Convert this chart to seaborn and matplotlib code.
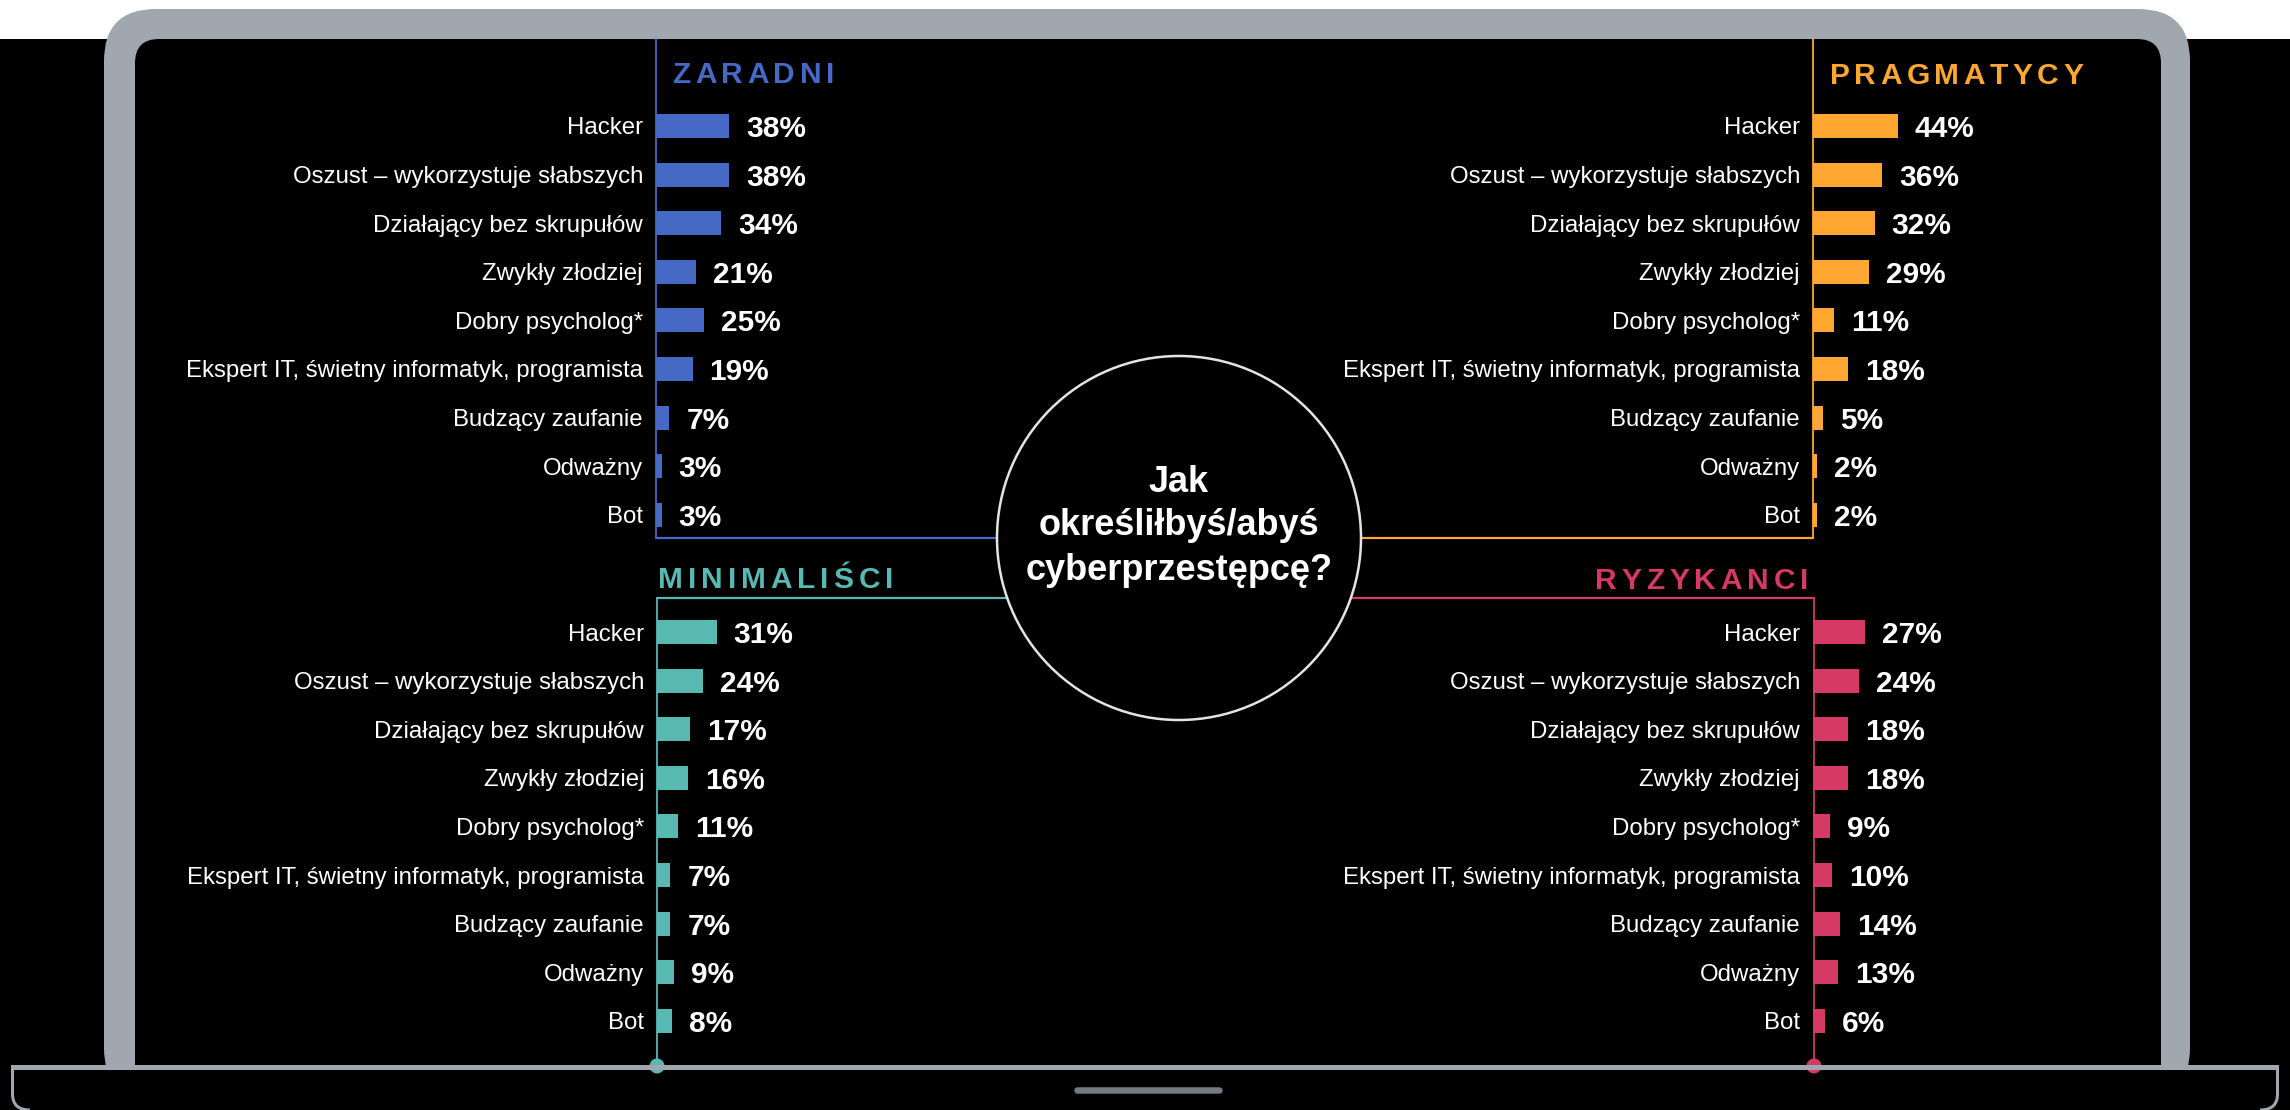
import matplotlib
matplotlib.use("Agg")
import matplotlib.pyplot as plt
import seaborn as sns
import pandas as pd
from matplotlib.patches import FancyBboxPatch, Rectangle, Circle, PathPatch
from matplotlib.path import Path

# ---------------- data ----------------
categories = [
    "Hacker",
    "Oszust – wykorzystuje słabszych",
    "Działający bez skrupułów",
    "Zwykły złodziej",
    "Dobry psycholog*",
    "Ekspert IT, świetny informatyk, programista",
    "Budzący zaufanie",
    "Odważny",
    "Bot",
]
zaradni = [38, 38, 34, 21, 25, 19, 7, 3, 3]
pragmatycy = [44, 36, 32, 29, 11, 18, 5, 2, 2]
minimalisci = [31, 24, 17, 16, 11, 7, 7, 9, 8]
ryzykanci = [27, 24, 18, 18, 9, 10, 14, 13, 6]
group_names = ["ZARADNI", "PRAGMATYCY", "MINIMALIŚCI", "RYZYKANCI"]
question_lines = ["Jak", "określiłbyś/abyś", "cyberprzestępcę?"]

# ---------------- style ----------------
sns.set_theme(style="white")
plt.rcParams['font.family'] = ['Liberation Sans', 'DejaVu Sans']

W, H, DPI = 2290, 1110, 100
def px(v):
    return v * 72.0 / DPI

GRAY = "#A0A7AE"
HANDLE = "#6F7C82"
COLORS = ["#4669C5", "#FFA633", "#57B9B1", "#D63964"]

fig = plt.figure(figsize=(W / DPI, H / DPI), dpi=DPI, facecolor="white")
bg = fig.add_axes([0, 0, 1, 1], zorder=0)
bg.set_xlim(0, W)
bg.set_ylim(H, 0)
bg.axis("off")

# ---------------- laptop frame ----------------
bg.add_patch(Rectangle((0, 39), W, H - 39, facecolor="black", edgecolor="none", zorder=0))
bg.add_patch(FancyBboxPatch((104, 9), 2190 - 104, 1100 - 9,
                            boxstyle="round,pad=0,rounding_size=52",
                            facecolor=GRAY, edgecolor="none", zorder=1))
bg.add_patch(FancyBboxPatch((135, 39), 2161 - 135, 1100 - 39,
                            boxstyle="round,pad=0,rounding_size=24",
                            facecolor="black", edgecolor="none", zorder=1.1))
bg.add_patch(Rectangle((0, 1069), W, H - 1069, facecolor="black", edgecolor="none", zorder=1.2))

# ---------------- panel connector lines ----------------
CX, CY, R = 1179, 538, 182
line_w = px(2.2)
axis_w = px(1.8)
bg.plot([656, 656], [39, 538], color=COLORS[0], lw=axis_w, zorder=2)
bg.plot([656, CX - R + 2], [538, 538], color=COLORS[0], lw=line_w, zorder=2)
bg.plot([1813, 1813], [39, 538], color=COLORS[1], lw=axis_w, zorder=2)
bg.plot([CX + R - 2, 1813], [538, 538], color=COLORS[1], lw=line_w, zorder=2)
bg.plot([657, 657], [598, 1066], color=COLORS[2], lw=axis_w, zorder=2)
bg.plot([657, CX - R + 14], [598, 598], color=COLORS[2], lw=line_w, zorder=2)
bg.plot([1814, 1814], [598, 1066], color=COLORS[3], lw=axis_w, zorder=2)
bg.plot([CX + R - 14, 1814], [598, 598], color=COLORS[3], lw=line_w, zorder=2)
bg.add_patch(Circle((657, 1066), 7.5, facecolor=COLORS[2], edgecolor="none", zorder=2.1))
bg.add_patch(Circle((1814, 1066), 7.5, facecolor=COLORS[3], edgecolor="none", zorder=2.1))

# base line, base outline and handle
bg.add_patch(Rectangle((11, 1064.5), 2279 - 11, 5.5, facecolor=GRAY, edgecolor="none", zorder=3))
for side in (0, 1):
    if side == 0:
        verts = [(12.5, 1068), (12.5, 1094), (12.5, 1110), (30, 1110)]
    else:
        verts = [(2277.5, 1068), (2277.5, 1094), (2277.5, 1110), (2260, 1110)]
    codes = [Path.MOVETO, Path.LINETO, Path.CURVE3, Path.CURVE3]
    bg.add_patch(PathPatch(Path(verts, codes), facecolor="none", edgecolor=GRAY,
                           lw=px(3), zorder=3))
bg.plot([1077, 1219], [1090, 1090], color=HANDLE, lw=px(6.5),
        solid_capstyle="round", zorder=3)

# ---------------- centre circle ----------------
bg.add_patch(Circle((CX, CY), R, facecolor="black", edgecolor="#E4E4E4",
                    lw=px(2.5), zorder=4))
for line, base in zip(question_lines, [492, 535, 580]):
    bg.text(CX, base, line, ha="center", va="baseline", color="white",
            fontsize=26, fontweight="bold", zorder=5)

# ---------------- spaced titles ----------------
renderer = fig.canvas.get_renderer()
def spaced_title(x_left, x_right, baseline, s, color):
    texts, widths = [], []
    for ch in s:
        t = bg.text(0, baseline, ch, fontsize=21.5, fontweight="bold", color=color,
                    ha="left", va="baseline", zorder=5)
        widths.append(t.get_window_extent(renderer).width)
        texts.append(t)
    gap = ((x_right - x_left) - sum(widths)) / (len(s) - 1)
    x = x_left
    for t, wd in zip(texts, widths):
        t.set_x(x)
        x += wd + gap

spaced_title(672, 834, 83, group_names[0], COLORS[0])
spaced_title(1830, 2083, 84, group_names[1], COLORS[1])
spaced_title(658, 893, 588, group_names[2], COLORS[2])
spaced_title(1595, 1808, 589, group_names[3], COLORS[3])

# ---------------- bar panels ----------------
ROW = 48.6
PXPCT = 1.925
XMAX = 100
panels = [
    (zaradni, COLORS[0], 656, 126.0),
    (pragmatycy, COLORS[1], 1813, 126.0),
    (minimalisci, COLORS[2], 657, 632.0),
    (ryzykanci, COLORS[3], 1813, 632.0),
]
for vals, col, x0, y0 in panels:
    top = y0 - ROW / 2
    h = ROW * 9
    w = PXPCT * XMAX
    ax = fig.add_axes([x0 / W, 1 - (top + h) / H, w / W, h / H], zorder=6)
    ax.set_facecolor("none")
    df = pd.DataFrame({"kategoria": categories, "procent": vals})
    sns.barplot(data=df, x="procent", y="kategoria", orient="h", color=col,
                saturation=1, width=24 / ROW, edgecolor=col, linewidth=0, ax=ax)
    ax.set_xlim(0, XMAX)
    ax.set_ylim(8.5, -0.5)
    ax.set_xlabel("")
    ax.set_ylabel("")
    ax.set_xticks([])
    for s in ax.spines.values():
        s.set_visible(False)
    ax.tick_params(axis="y", length=0, pad=px(13), labelsize=17.3, labelcolor="white")
    for i, v in enumerate(vals):
        ax.annotate(f"{v}%", xy=(v, i), xytext=(px(17), 0), textcoords="offset points",
                    ha="left", va="center_baseline", color="white",
                    fontsize=21.5, fontweight="bold", annotation_clip=False)

fig.savefig("out.png", dpi=DPI, facecolor=fig.get_facecolor())
